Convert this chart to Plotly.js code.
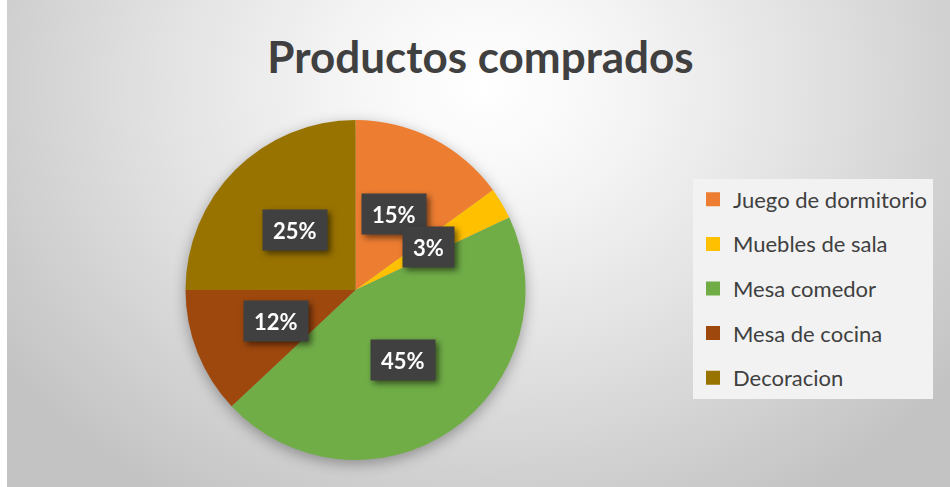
<!DOCTYPE html>
<html>
<head>
<meta charset="utf-8">
<script src="https://cdn.plot.ly/plotly-3.0.1.min.js"></script>
<style>
  html, body { margin:0; padding:0; background:#ffffff; }
  #chart {
    position:absolute; left:0; top:0; width:950px; height:487px;
    background:
      linear-gradient(to right, #ffffff 0px, #ffffff 7px, rgba(255,255,255,0) 7px),
      radial-gradient(ellipse 62% 100% at 51% 18%, #ffffff 0%, #f6f6f6 22%, #e2e2e2 55%, #cdcdcd 85%, #c3c3c3 100%);
  }
  .pielayer { filter: drop-shadow(0px 4px 7px rgba(0,0,0,0.32)); }
  .annotation { filter: drop-shadow(3px 3px 3px rgba(0,0,0,0.55)); }
</style>
</head>
<body>
<div id="chart"></div>
<script>
// ---- data ----
const categories = ["Juego de dormitorio", "Muebles de sala", "Mesa comedor", "Mesa de cocina", "Decoracion"];
const values = [15, 3, 45, 12, 25];
const sliceColors = ["#ED7D31", "#FFC000", "#70AD47", "#9E480E", "#997300"];
const chartTitle = "Productos comprados";

// ---- layout geometry ----
const W = 950, H = 487;
const pieDomain = { x: [185.5 / W, 525.5 / W], y: [1 - 460 / H, 1 - 120 / H] };

const total = values.reduce((a, b) => a + b, 0);

const pie = {
  type: "pie",
  labels: categories,
  values: values,
  sort: false,
  direction: "clockwise",
  rotation: 0,
  textinfo: "none",
  hoverinfo: "label+percent",
  marker: { colors: sliceColors, line: { width: 0 } },
  domain: pieDomain,
  showlegend: false
};

// legend entries (one group per category so the gap between entries can be set)
const legendTraces = categories.map((c, i) => ({
  type: "scatter",
  x: [null], y: [null],
  mode: "markers",
  name: c,
  legendgroup: "g" + i,
  marker: { symbol: "square", size: 14, color: sliceColors[i] },
  hoverinfo: "skip"
}));

// data labels computed from the data: halfway along each slice's middle angle
const pxX0 = pieDomain.x[0] * W, pxX1 = pieDomain.x[1] * W;
const pxY0 = (1 - pieDomain.y[1]) * H, pxY1 = (1 - pieDomain.y[0]) * H;
const cx = (pxX0 + pxX1) / 2, cy = (pxY0 + pxY1) / 2;
const R = Math.min(pxX1 - pxX0, pxY1 - pxY0) / 2;
let cum = 0;
const annotations = values.map((v) => {
  const mid = (cum + v / 2) / total * 2 * Math.PI;
  cum += v;
  const px = cx + 0.5 * R * Math.sin(mid);
  const py = cy - 0.5 * R * Math.cos(mid);
  return {
    xref: "paper", yref: "paper",
    x: px / W, y: 1 - py / H,
    xanchor: "center", yanchor: "middle",
    showarrow: false,
    text: Math.round(v / total * 100) + "%",
    font: { family: "Lato, 'Open Sans', sans-serif", size: 22, color: "#ffffff", weight: "bold" },
    bgcolor: "#404040",
    borderpad: 10,
    height: 20
  };
});

const layout = {
  width: W, height: H,
  margin: { l: 0, r: 0, t: 0, b: 0 },
  paper_bgcolor: "rgba(0,0,0,0)",
  plot_bgcolor: "rgba(0,0,0,0)",
  title: {
    text: "<b>" + chartTitle + "</b>",
    font: { family: "Lato, 'Open Sans', sans-serif", size: 44, color: "#404040" },
    x: 480.5 / W, xanchor: "center",
    xref: "paper", yref: "container",
    y: 1 - 58 / H, yanchor: "middle"
  },
  xaxis: { visible: false, domain: [0, 0.01] },
  yaxis: { visible: false, domain: [0, 0.01] },
  showlegend: true,
  legend: {
    x: 693 / W, xanchor: "left",
    y: 1 - 178.5 / H, yanchor: "top",
    bgcolor: "#f2f2f2",
    borderwidth: 0,
    font: { family: "Lato, 'Open Sans', sans-serif", size: 22, color: "#404040" },
    tracegroupgap: 13,
    traceorder: "grouped",
    itemclick: false, itemdoubleclick: false
  },
  annotations: annotations
};

Plotly.newPlot("chart", [pie].concat(legendTraces), layout, { displayModeBar: false, staticPlot: true });
</script>
</body>
</html>
